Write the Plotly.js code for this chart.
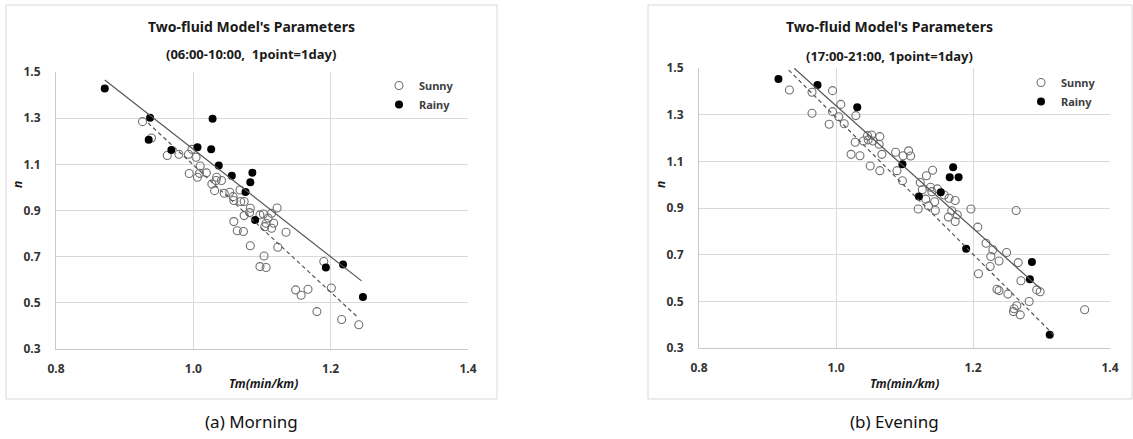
<!DOCTYPE html>
<html>
<head>
<meta charset="utf-8">
<script src="https://cdn.plot.ly/plotly-3.0.1.min.js"></script>
<style>
  html, body { margin: 0; padding: 0; background: #fff; }
  #chart { width: 1133px; height: 439px; }
</style>
</head>
<body>
<div id="chart"></div>
<script>
// Two-fluid model parameters: travel time per km (Tm) vs n, one point per day

// (a) Morning, 06:00-10:00
const morningSunnyTm = [0.926, 0.939, 0.962, 0.979, 0.993, 0.998, 1.004, 1.010, 0.994, 1.006, 1.009, 1.019, 1.034, 1.033, 1.027, 1.031, 1.041, 1.045, 1.053, 1.058, 1.068, 1.059, 1.069, 1.074, 1.083, 1.082, 1.074, 1.097, 1.102, 1.104, 1.059, 1.064, 1.073, 1.109, 1.122, 1.114, 1.117, 1.106, 1.114, 1.135, 1.083, 1.103, 1.123, 1.097, 1.106, 1.190, 1.149, 1.157, 1.167, 1.201, 1.180, 1.216, 1.241];
const morningSunnyN  = [1.285, 1.214, 1.138, 1.144, 1.144, 1.165, 1.131, 1.093, 1.060, 1.044, 1.061, 1.063, 1.044, 1.030, 1.015, 0.986, 1.030, 0.975, 0.979, 0.960, 0.989, 0.943, 0.939, 0.939, 0.910, 0.891, 0.878, 0.881, 0.885, 0.830, 0.852, 0.812, 0.809, 0.867, 0.911, 0.888, 0.845, 0.845, 0.823, 0.806, 0.747, 0.703, 0.741, 0.657, 0.653, 0.679, 0.556, 0.533, 0.559, 0.564, 0.462, 0.428, 0.405];
const morningRainyTm = [0.871, 0.937, 0.935, 0.968, 1.006, 1.028, 1.026, 1.037, 1.056, 1.086, 1.083, 1.076, 1.090, 1.218, 1.193, 1.247];
const morningRainyN  = [1.429, 1.302, 1.206, 1.162, 1.174, 1.298, 1.165, 1.095, 1.050, 1.064, 1.022, 0.980, 0.859, 0.666, 0.653, 0.525];
// fitted trend lines (end points)
const morningSunnyFitTm = [0.934, 1.239];
const morningSunnyFitN  = [1.279, 0.439];
const morningRainyFitTm = [0.871, 1.245];
const morningRainyFitN  = [1.465, 0.595];

// (b) Evening, 17:00-21:00
const eveningSunnyTm = [0.932, 0.965, 0.995, 0.965, 0.995, 0.990, 1.004, 1.007, 1.012, 1.029, 1.046, 1.052, 1.064, 1.040, 1.047, 1.054, 1.028, 1.063, 1.022, 1.035, 1.067, 1.050, 1.064, 1.087, 1.098, 1.106, 1.109, 1.089, 1.097, 1.132, 1.141, 1.123, 1.126, 1.138, 1.140, 1.148, 1.131, 1.144, 1.158, 1.165, 1.174, 1.120, 1.135, 1.145, 1.169, 1.164, 1.177, 1.174, 1.197, 1.263, 1.207, 1.219, 1.229, 1.226, 1.238, 1.249, 1.266, 1.225, 1.208, 1.270, 1.235, 1.238, 1.251, 1.264, 1.260, 1.259, 1.269, 1.282, 1.293, 1.298, 1.363];
const eveningSunnyN  = [1.406, 1.396, 1.403, 1.306, 1.313, 1.259, 1.291, 1.344, 1.261, 1.296, 1.210, 1.213, 1.206, 1.187, 1.192, 1.187, 1.182, 1.173, 1.130, 1.124, 1.130, 1.080, 1.060, 1.139, 1.124, 1.145, 1.123, 1.060, 1.017, 1.038, 1.062, 1.009, 0.978, 0.989, 0.970, 0.982, 0.938, 0.927, 0.956, 0.942, 0.932, 0.896, 0.909, 0.889, 0.888, 0.861, 0.871, 0.842, 0.896, 0.889, 0.818, 0.749, 0.721, 0.692, 0.673, 0.709, 0.666, 0.649, 0.618, 0.588, 0.552, 0.546, 0.531, 0.481, 0.468, 0.456, 0.442, 0.499, 0.549, 0.541, 0.464];
const eveningRainyTm = [0.916, 0.973, 1.031, 1.097, 1.153, 1.121, 1.171, 1.166, 1.179, 1.190, 1.283, 1.286, 1.312];
const eveningRainyN  = [1.453, 1.427, 1.332, 1.088, 0.968, 0.949, 1.075, 1.032, 1.032, 0.725, 0.595, 0.669, 0.357];
const eveningSunnyFitTm = [0.931, 1.320];
const eveningSunnyFitN  = [1.491, 0.350];
const eveningRainyFitTm = [0.939, 1.300];
const eveningRainyFitN  = [1.499, 0.550];

const xTicks = [0.8, 1.0, 1.2, 1.4];
const yTicks = [0.3, 0.5, 0.7, 0.9, 1.1, 1.3, 1.5];

const titleMain = "Two-fluid Model's Parameters";
const subMorning = "(06:00-10:00,  1point=1day)";
const subEvening = "(17:00-21:00, 1point=1day)";
const xTitle = "Tm(min/km)";
const yTitle = "n";
const capMorning = "(a) Morning";
const capEvening = "(b) Evening";

// ---- page geometry (pixels) ----
const W = 1133, H = 439;
const fx = v => v / W;
const fy = v => 1 - v / H;
const FONT = "Noto Sans, Open Sans, sans-serif";
const GRID = "#d9d9d9";

function sunny(x, y, xa, ya, lg, show) {
  return { type: "scatter", mode: "markers", x: x, y: y, xaxis: xa, yaxis: ya, name: "Sunny",
    legend: lg, showlegend: show, cliponaxis: false,
    marker: { symbol: "circle-open", size: 8, color: "#707070", line: { width: 1.1, color: "#707070" } } };
}
function rainy(x, y, xa, ya, lg, show) {
  return { type: "scatter", mode: "markers", x: x, y: y, xaxis: xa, yaxis: ya, name: "Rainy",
    legend: lg, showlegend: show, cliponaxis: false,
    marker: { symbol: "circle", size: 8, color: "#000000" } };
}
function fit(x, y, xa, ya, dash) {
  return { type: "scatter", mode: "lines", x: x, y: y, xaxis: xa, yaxis: ya, showlegend: false,
    hoverinfo: "skip", line: { color: "#555555", width: 1.2, dash: dash } };
}

const traces = [
  sunny(morningSunnyTm, morningSunnyN, "x", "y", "legend", true),
  rainy(morningRainyTm, morningRainyN, "x", "y", "legend", true),
  fit(morningSunnyFitTm, morningSunnyFitN, "x", "y", "4px,3px"),
  fit(morningRainyFitTm, morningRainyFitN, "x", "y", "solid"),
  sunny(eveningSunnyTm, eveningSunnyN, "x2", "y2", "legend2", true),
  rainy(eveningRainyTm, eveningRainyN, "x2", "y2", "legend2", true),
  fit(eveningSunnyFitTm, eveningSunnyFitN, "x2", "y2", "4px,3px"),
  fit(eveningRainyFitTm, eveningRainyFitN, "x2", "y2", "solid")
];

const tickFont = { family: FONT, size: 12, color: "#333333", weight: "bold" };

function xAxis(d0, d1, anchor) {
  return { domain: [fx(d0), fx(d1)], anchor: anchor, range: [0.8, 1.4], tickvals: xTicks,
    ticktext: xTicks.map(v => v.toFixed(1)), showgrid: true, gridcolor: GRID, gridwidth: 1,
    zeroline: false, showline: true, linecolor: "#c8c8c8", linewidth: 1, ticks: "",
    ticklabelstandoff: 9, tickfont: tickFont, fixedrange: true };
}
function yAxis(top, bottom, anchor) {
  return { domain: [fy(bottom), fy(top)], anchor: anchor, range: [0.3, 1.5], tickvals: yTicks,
    ticktext: yTicks.map(v => v.toFixed(1)), showgrid: true, gridcolor: GRID, gridwidth: 1,
    zeroline: false, showline: true, linecolor: "#c8c8c8", linewidth: 1, ticks: "",
    ticklabelstandoff: 12, tickfont: tickFont, fixedrange: true };
}

function note(text, x, y, size, extra) {
  return Object.assign({ text: text, xref: "paper", yref: "paper", x: fx(x), y: fy(y),
    xanchor: "center", yanchor: "middle", showarrow: false,
    font: { family: FONT, size: size, color: "#1a1a1a", weight: "bold" } }, extra || {});
}

const annotations = [
  note(titleMain, 251, 26, 14),
  note(subMorning, 251, 54, 13),
  note(titleMain, 889, 26, 14),
  note(subEvening, 889, 56, 13),
  note(xTitle, 263, 383, 12, { font: { family: FONT, size: 12, color: "#1a1a1a", weight: "bold", style: "italic" } }),
  note(xTitle, 905, 383, 12, { font: { family: FONT, size: 12, color: "#1a1a1a", weight: "bold", style: "italic" } }),
  note(yTitle, 17, 185, 12, { textangle: -90, font: { family: FONT, size: 12, color: "#1a1a1a", weight: "bold", style: "italic" } }),
  note(yTitle, 660, 185, 12, { textangle: -90, font: { family: FONT, size: 12, color: "#1a1a1a", weight: "bold", style: "italic" } }),
  note(capMorning, 251, 421, 17, { font: { family: FONT, size: 17, color: "#111111" } }),
  note(capEvening, 894, 421, 17, { font: { family: FONT, size: 17, color: "#111111" } })
];

const frame = (x0, x1) => ({ type: "rect", xref: "paper", yref: "paper",
  x0: fx(x0), x1: fx(x1), y0: fy(399), y1: fy(5), line: { color: "#d9d9d9", width: 1 }, layer: "below" });

const legendFont = { family: FONT, size: 11, color: "#404040", weight: "bold" };

const layout = {
  width: W, height: H, margin: { l: 0, r: 0, t: 0, b: 0 },
  paper_bgcolor: "#ffffff", plot_bgcolor: "#ffffff",
  xaxis: xAxis(56, 468, "y"),
  yaxis: yAxis(72, 349, "x"),
  xaxis2: xAxis(699, 1110, "y2"),
  yaxis2: yAxis(68, 348, "x2"),
  legend: { x: fx(379), y: fy(71), xanchor: "left", yanchor: "top", bgcolor: "rgba(0,0,0,0)",
    font: legendFont, tracegroupgap: 0, itemwidth: 30 },
  legend2: { x: fx(1021), y: fy(68), xanchor: "left", yanchor: "top", bgcolor: "rgba(0,0,0,0)",
    font: legendFont, tracegroupgap: 0, itemwidth: 30 },
  shapes: [frame(6, 497), frame(648, 1132)],
  annotations: annotations,
  hovermode: false
};

Plotly.newPlot("chart", traces, layout, { staticPlot: true, displayModeBar: false });
</script>
</body>
</html>
